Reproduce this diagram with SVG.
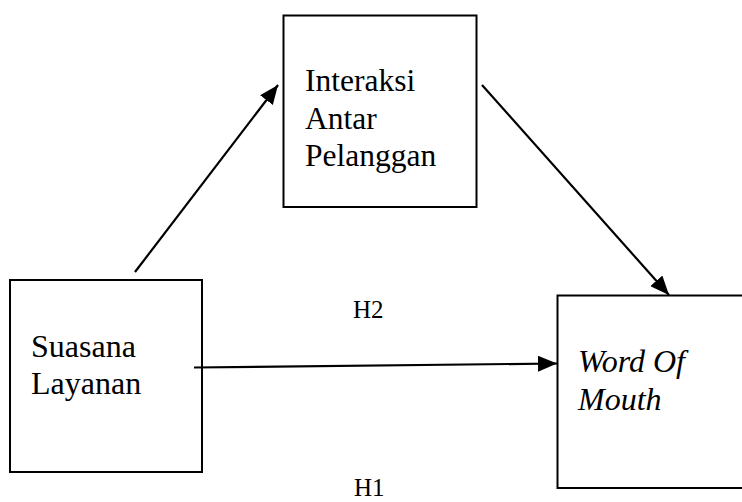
<svg xmlns="http://www.w3.org/2000/svg" width="742" height="502" viewBox="0 0 742 502">
<style>
.box{fill:#fff;stroke:#000;stroke-width:2}
.lbl{font-family:"Liberation Serif","Times New Roman",serif;fill:#000}
.conn{stroke:#000;stroke-width:2.2;fill:none;marker-end:url(#ah)}
</style>
<defs>
<marker id="ah" markerUnits="userSpaceOnUse" markerWidth="20" markerHeight="16" refX="19" refY="8" orient="auto">
<path d="M0,0 L19,8 L0,16 Z" fill="#000"/>
</marker>
</defs>
<rect width="742" height="502" fill="#fff"/>
<g id="interaksi">
<rect class="box" x="283.5" y="15.5" width="193" height="191.5"/>
<text class="lbl" font-size="31.5" x="305" y="91">Interaksi</text>
<text class="lbl" font-size="31.5" x="305" y="129">Antar</text>
<text class="lbl" font-size="31.5" x="305" y="166">Pelanggan</text>
</g>
<g id="suasana">
<rect class="box" x="10" y="280" width="192" height="192"/>
<text class="lbl" font-size="32" x="31" y="357">Suasana</text>
<text class="lbl" font-size="32" x="31" y="394">Layanan</text>
</g>
<g id="wom">
<rect class="box" x="557.5" y="295.5" width="200" height="192.5"/>
<text class="lbl" font-size="32" font-style="italic" x="578" y="372">Word Of</text>
<text class="lbl" font-size="32" font-style="italic" x="578" y="410">Mouth</text>
</g>
<g id="connectors">
<line class="conn" x1="135" y1="272" x2="278" y2="85"/>
<line class="conn" x1="482" y1="85" x2="669" y2="295"/>
<line class="conn" x1="194" y1="367.5" x2="557" y2="363.5"/>
</g>
<g id="labels">
<text class="lbl" font-size="25" x="353" y="318">H2</text>
<text class="lbl" font-size="25" x="354" y="496">H1</text>
</g>
</svg>
